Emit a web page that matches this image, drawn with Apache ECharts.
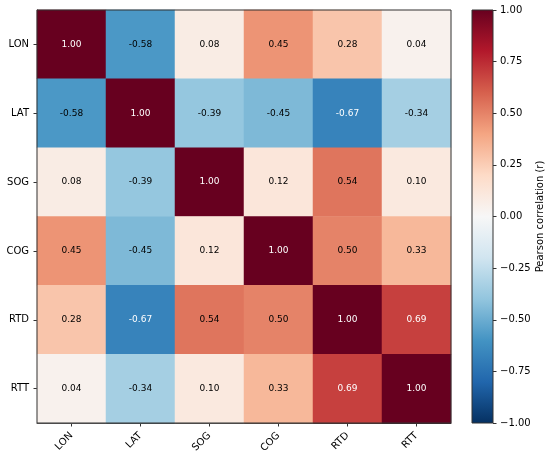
<!DOCTYPE html>
<html>
<head>
<meta charset="utf-8">
<script src="https://cdn.jsdelivr.net/npm/echarts@6/dist/echarts.min.js"></script>
<style>
html,body{margin:0;padding:0;background:#fff;}
#c{width:550px;height:457px;}
</style>
</head>
<body>
<div id="c"></div>
<script>
const categories = ['LON', 'LAT', 'SOG', 'COG', 'RTD', 'RTT'];
const rowLON = [1.00, -0.58, 0.08, 0.45, 0.28, 0.04];
const rowLAT = [-0.58, 1.00, -0.39, -0.45, -0.67, -0.34];
const rowSOG = [0.08, -0.39, 1.00, 0.12, 0.54, 0.10];
const rowCOG = [0.45, -0.45, 0.12, 1.00, 0.50, 0.33];
const rowRTD = [0.28, -0.67, 0.54, 0.50, 1.00, 0.69];
const rowRTT = [0.04, -0.34, 0.10, 0.33, 0.69, 1.00];
const colorbarMin = -1, colorbarMax = 1, colorbarStep = 0.25;
const colorbarTitle = 'Pearson correlation (r)';

const rows = [rowLON, rowLAT, rowSOG, rowCOG, rowRTD, rowRTT];
const rdbuR = ['#053061','#2166ac','#4393c3','#92c5de','#d1e5f0','#f7f7f7','#fddbc7','#f4a582','#d6604d','#b2182b','#67001f'];
const data = [];
rows.forEach((r, yi) => r.forEach((v, xi) => data.push([xi, yi, v])));

const font = 'DejaVu Sans';
const chart = echarts.init(document.getElementById('c'), null, {renderer: 'canvas'});
const stops = rdbuR.slice().reverse().map((c, i) => ({offset: i / (rdbuR.length - 1), color: c}));

chart.setOption({
  animation: false,
  backgroundColor: '#fff',
  textStyle: {fontFamily: font},
  grid: [
    {left: 37, top: 10, width: 414, height: 413, show: true, borderColor: '#333', borderWidth: 1, backgroundColor: 'transparent', z: 5},
    {left: 472, top: 10, width: 21, height: 413, show: true, borderColor: '#333', borderWidth: 1,
     backgroundColor: new echarts.graphic.LinearGradient(0, 0, 0, 1, stops)}
  ],
  xAxis: [
    {type: 'category', gridIndex: 0, data: categories,
     axisLine: {show: true, lineStyle: {color: '#333', width: 1}},
     axisTick: {show: true, alignWithLabel: true, length: 3.5, lineStyle: {color: '#333'}},
     axisLabel: {rotate: 45, margin: 11, color: '#000', fontSize: 10, fontFamily: font},
     splitLine: {show: false}},
    {type: 'value', gridIndex: 1, show: false, min: 0, max: 1}
  ],
  yAxis: [
    {type: 'category', gridIndex: 0, data: categories, inverse: true,
     axisLine: {show: true, lineStyle: {color: '#333', width: 1}},
     axisTick: {show: true, alignWithLabel: true, length: 3.5, lineStyle: {color: '#333'}},
     axisLabel: {margin: 8, color: '#000', fontSize: 10, fontFamily: font},
     splitLine: {show: false}},
    {type: 'value', gridIndex: 1, position: 'right', min: colorbarMin, max: colorbarMax, interval: colorbarStep,
     axisLine: {show: false, onZero: false},
     axisTick: {show: true, length: 3.5, lineStyle: {color: '#333'}},
     axisLabel: {margin: 7, color: '#000', fontSize: 10, fontFamily: font,
       formatter: v => v.toFixed(2).replace('-', '\u2212')},
     splitLine: {show: false},
     name: colorbarTitle, nameLocation: 'middle', nameRotate: 90, nameGap: 42,
     nameTextStyle: {color: '#000', fontSize: 10, fontFamily: font}}
  ],
  visualMap: {
    type: 'continuous', show: false, min: colorbarMin, max: colorbarMax, seriesIndex: 0,
    inRange: {color: rdbuR}
  },
  series: [{
    type: 'heatmap', xAxisIndex: 0, yAxisIndex: 0, data: data,
    label: {
      show: true, fontSize: 9, fontFamily: font,
      formatter: p => {
        const v = p.value[2];
        return (Math.abs(v) > 0.6 ? '{w|' : '{b|') + v.toFixed(2) + '}';
      },
      rich: {
        w: {color: '#fff', fontSize: 9, fontFamily: font},
        b: {color: '#000', fontSize: 9, fontFamily: font}
      }
    },
    itemStyle: {borderWidth: 0},
    emphasis: {disabled: true}
  }]
});
</script>
</body>
</html>
